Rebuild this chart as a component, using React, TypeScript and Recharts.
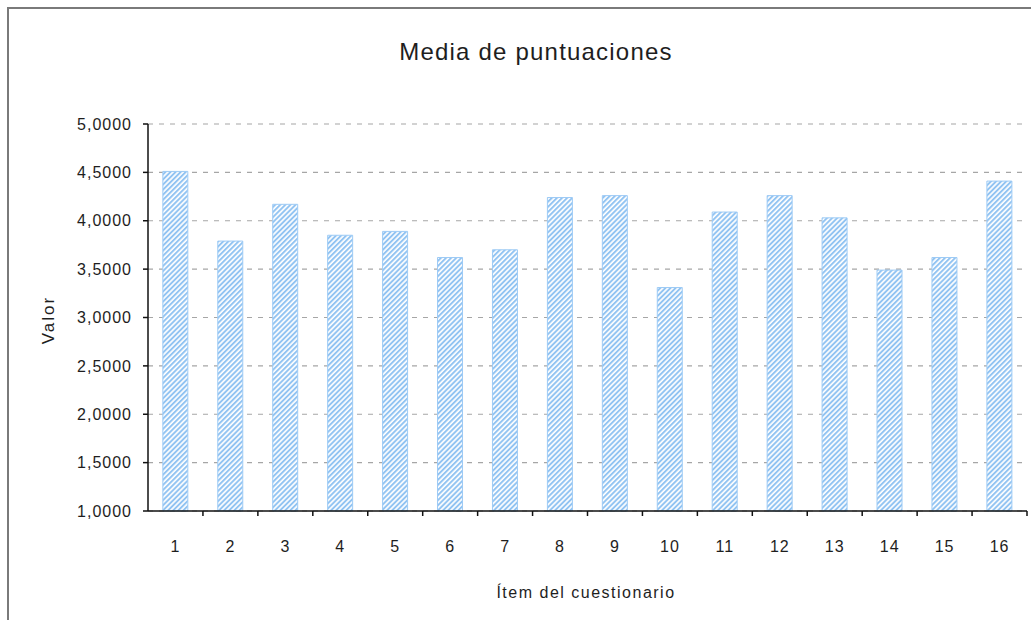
import React from 'react';
import { BarChart, Bar, XAxis, YAxis, CartesianGrid } from 'recharts';

const items: string[] = ['1', '2', '3', '4', '5', '6', '7', '8', '9', '10', '11', '12', '13', '14', '15', '16'];
const meanScores: number[] = [4.51, 3.79, 4.17, 3.85, 3.89, 3.62, 3.70, 4.24, 4.26, 3.31, 4.09, 4.26, 4.03, 3.49, 3.62, 4.41];
const yTicks: number[] = [1, 1.5, 2, 2.5, 3, 3.5, 4, 4.5, 5];
const chartTitle = 'Media de puntuaciones';
const yAxisTitle = 'Valor';
const xAxisTitle = 'Ítem del cuestionario';

const data = items.map((item, i) => ({ item, value: meanScores[i] }));

const FONT = '"Liberation Sans", Arial, sans-serif';
const TEXT = '#1e1e1e';

const formatY = (v: number) => v.toFixed(4).replace('.', ',');

const XTick = (props: any) => {
  const { x, y, payload } = props;
  const off = payload && typeof payload.offset === 'number' && payload.offset > 0 ? payload.offset : 27.47;
  return (
    <g>
      <line x1={x + off} x2={x + off} y1={y} y2={y + 5} stroke="#111" strokeWidth={1.5} />
      <text x={x} y={y + 41} textAnchor="middle" fontSize={16} fontFamily={FONT} fill={TEXT} letterSpacing={1}>
        {payload.value}
      </text>
    </g>
  );
};

export default function App() {
  return (
    <div style={{ position: 'absolute', left: 0, top: 0, width: 1031, height: 620, background: '#fff', overflow: 'hidden' }}>
      <div
        style={{
          position: 'absolute',
          left: 7,
          top: 7,
          width: 1024,
          height: 613,
          borderLeft: '2.5px solid #7a7a7a',
          borderTop: '2.5px solid #7a7a7a',
          boxSizing: 'border-box',
        }}
      />
      <div style={{ position: 'absolute', left: 0, top: 0 }}>
        <BarChart
          width={1031}
          height={620}
          data={data}
          margin={{ top: 124, right: 4, bottom: 0, left: 0 }}
          barCategoryGap="27%"
        >
          <defs>
            <pattern id="hatch" patternUnits="userSpaceOnUse" width={3.6} height={3.6} patternTransform="rotate(45)">
              <rect x={0} y={0} width={3.6} height={3.6} fill="#ffffff" />
              <line x1={1} y1={0} x2={1} y2={3.6} stroke="#8ec2f2" strokeWidth={1.9} />
            </pattern>
          </defs>
          <CartesianGrid vertical={false} stroke="#a6a6a6" strokeDasharray="5 6" strokeWidth={1.2} />
          <XAxis
            dataKey="item"
            height={109}
            interval={0}
            tickSize={0}
            tickMargin={0}
            tickLine={false}
            axisLine={{ stroke: '#111', strokeWidth: 1.5 }}
            tick={<XTick />}
          />
          <YAxis
            type="number"
            domain={[1, 5]}
            ticks={yTicks}
            interval={0}
            width={148}
            tickSize={5}
            tickMargin={11}
            tickFormatter={formatY}
            axisLine={{ stroke: '#111', strokeWidth: 1.5 }}
            tickLine={{ stroke: '#111', strokeWidth: 1.5 }}
            tick={{ fontSize: 16, fill: TEXT, fontFamily: FONT, letterSpacing: 1 }}
          />
          <Bar
            dataKey="value"
            fill="url(#hatch)"
            stroke="#9ecbf5"
            strokeWidth={1}
            isAnimationActive={false}
          />
          <text x={536} y={60} textAnchor="middle" fontSize={24} fontFamily={FONT} fill={TEXT} letterSpacing={1.2}>
            {chartTitle}
          </text>
          <text
            x={48}
            y={320}
            textAnchor="middle"
            dominantBaseline="central"
            fontSize={17}
            fontFamily={FONT}
            fill={TEXT}
            letterSpacing={2}
            transform="rotate(-90 48 320)"
          >
            {yAxisTitle}
          </text>
          <text x={586} y={598} textAnchor="middle" fontSize={16} fontFamily={FONT} fill={TEXT} letterSpacing={1.5}>
            {xAxisTitle}
          </text>
        </BarChart>
      </div>
    </div>
  );
}
